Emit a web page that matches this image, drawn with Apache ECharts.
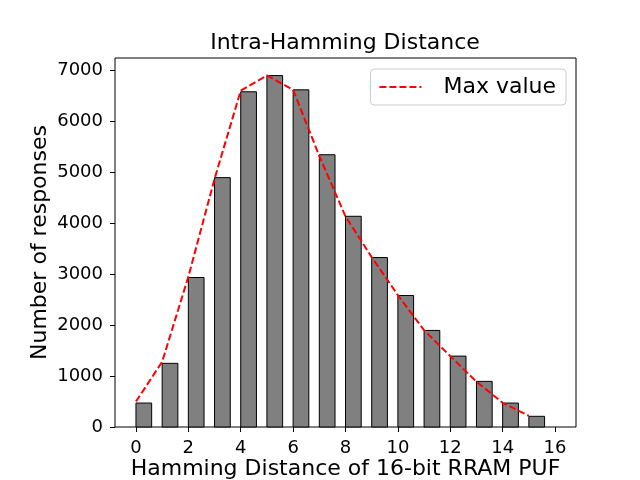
<!DOCTYPE html>
<html style="height: 100%">
	<head>
		<meta charset="utf-8">
	</head>
	<body style="height: 100%; margin: 0">
		<div id="container" style="width: 640px; height: 480px"></div>
		<script type="text/javascript" src="https://cdn.jsdelivr.net/npm/echarts@6.0.0/dist/echarts.min.js"></script>
		<script type="text/javascript">
			// histogram bins (left edge) and counts
			var distances = [0, 1, 2, 3, 4, 5, 6, 7, 8, 9, 10, 11, 12, 13, 14, 15];
			var counts = [470, 1250, 2935, 4896, 6582, 6900, 6620, 5346, 4137, 3327, 2582, 1896, 1392, 896, 470, 210];
			// red dashed "Max value" curve
			var maxValues = [500, 1280, 2950, 4870, 6605, 6902, 6620, 5320, 4135, 3335, 2588, 1900, 1392, 890, 475, 220];
			var xTicks = [0, 2, 4, 6, 8, 10, 12, 14, 16];
			var yTicks = [0, 1000, 2000, 3000, 4000, 5000, 6000, 7000];

			var barWidth = 0.6;
			var font = 'DejaVu Sans';

			var dom = document.getElementById("container");
			var myChart = echarts.init(dom);

			var barData = distances.map(function (d, i) { return [d, counts[i]]; });
			var lineData = distances.map(function (d, i) { return [d, maxValues[i]]; });

			var plain = function (v) { return String(v); };

			var option = {
				animation: false,
				backgroundColor: '#fff',
				title: {
					text: 'Intra-Hamming Distance',
					left: 345,
					textAlign: 'center',
					top: 32,
					padding: 0,
					textStyle: { fontFamily: font, fontSize: 22, fontWeight: 'normal', color: '#000' }
				},
				legend: {
					right: 74,
					top: 69,
					orient: 'vertical',
					padding: [7, 10, 7, 8],
					borderColor: '#cccccc',
					borderWidth: 1,
					borderRadius: 4,
					itemWidth: 42,
					itemHeight: 14,
					itemStyle: { opacity: 0 },
					textStyle: { fontFamily: font, fontSize: 22, color: '#000', padding: [0, 0, 0, 17] },
					data: ['Max value']
				},
				grid: {
					left: 115,
					right: 64,
					top: 58,
					bottom: 53,
					outerBoundsMode: 'none',
					containLabel: false,
					show: true,
					borderColor: '#000',
					borderWidth: 1,
					backgroundColor: 'transparent'
				},
				xAxis: {
					type: 'value',
					min: -0.8,
					max: 16.8,
					name: 'Hamming Distance of 16-bit RRAM PUF',
					nameLocation: 'middle',
					nameGap: 31,
					nameMoveOverlap: false,
					nameTextStyle: { fontFamily: font, fontSize: 22, color: '#000' },
					axisLine: { show: false, onZero: false },
					axisTick: { show: true, length: 5, customValues: xTicks, lineStyle: { color: '#000' } },
					axisLabel: { customValues: xTicks, formatter: plain, fontFamily: font, fontSize: 18, color: '#000', margin: 12 },
					splitLine: { show: false }
				},
				yAxis: {
					type: 'value',
					min: 0,
					max: 7245,
					name: 'Number of responses',
					nameLocation: 'middle',
					nameGap: 64,
					nameMoveOverlap: false,
					nameTextStyle: { fontFamily: font, fontSize: 22, color: '#000' },
					axisLine: { show: false, onZero: false },
					axisTick: { show: true, length: 5, customValues: yTicks, lineStyle: { color: '#000' } },
					axisLabel: { customValues: yTicks, formatter: plain, fontFamily: font, fontSize: 18, color: '#000', margin: 12 },
					splitLine: { show: false }
				},
				series: [
					{
						name: 'Counts',
						type: 'custom',
						data: barData,
						encode: { x: 0, y: 1 },
						renderItem: function (params, api) {
							var x0 = api.value(0);
							var v = api.value(1);
							var p0 = api.coord([x0, v]);
							var p1 = api.coord([x0 + barWidth, 0]);
							return {
								type: 'rect',
								shape: { x: p0[0], y: p0[1], width: p1[0] - p0[0], height: p1[1] - p0[1] },
								style: { fill: '#808080', stroke: '#000', lineWidth: 1 }
							};
						},
						z: 2
					},
					{
						name: 'Max value',
						type: 'line',
						data: lineData,
						symbol: 'none',
						color: '#ff0000',
						lineStyle: { color: '#ff0000', width: 2, type: [7, 3] },
						z: 3
					}
				]
			};

			myChart.setOption(option);
		</script>
	</body>
</html>
